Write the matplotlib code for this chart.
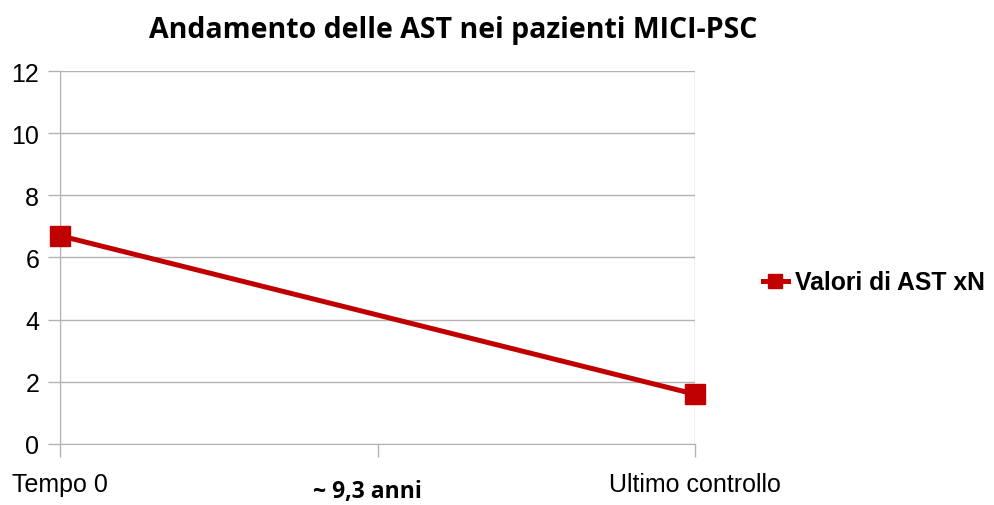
import matplotlib
matplotlib.use("Agg")
import matplotlib.pyplot as plt
from matplotlib.lines import Line2D

categories = ["Tempo 0", "Ultimo controllo"]
ast_values = [6.7, 1.6]
series_name = "Valori di AST xN"
interval_label = "~ 9,3 anni"
title = "Andamento delle AST nei pazienti MICI-PSC"

RED = "#c00000"
GRID = "#b3b3b3"

fig = plt.figure(figsize=(9.94, 5.06), dpi=100)
ax = fig.add_axes([0.0604, 0.1206, 0.6388, 0.7371])

x = list(range(len(categories)))
ax.plot(x, ast_values, color=RED, linewidth=3.6, marker="s", markersize=14,
        clip_on=False, zorder=5)

ax.set_xlim(0, len(categories) - 1)
ax.set_ylim(0, 12)
ax.set_yticks(range(0, 13, 2))
ax.set_xticks(x)
ax.set_xticklabels(categories)
ax.set_xticks([0.5], minor=True)
ax.grid(True, axis="both", which="major", color=GRID, linewidth=1)
ax.set_axisbelow(True)

for s in ["top", "right"]:
    ax.spines[s].set_visible(False)
for s in ["left", "bottom"]:
    ax.spines[s].set_color(GRID)
ax.tick_params(axis="both", which="both", color=GRID, length=9, width=1,
               labelsize=18, labelcolor="#000000")
ax.tick_params(axis="x", pad=11)
ax.tick_params(axis="y", pad=6)
for lbl in ax.get_xticklabels() + ax.get_yticklabels():
    lbl.set_family("Liberation Sans")

fig.text(0.456, 0.94, title, ha="center", va="center",
         fontsize=20.5, fontweight="bold", family="Open Sans")
fig.text(0.37, 0.028, interval_label, ha="center", va="center",
         fontsize=16.5, fontweight="bold", family="Open Sans")

handle = Line2D([], [], color=RED, linewidth=3.6, marker="s", markersize=10)
fig.legend([handle], [series_name], loc="center left",
           bbox_to_anchor=(0.755, 0.44), frameon=False, handlelength=1.0,
           handletextpad=0.3, borderpad=0,
           prop={"family": "Liberation Sans", "weight": "bold", "size": 17.8})

fig.savefig("out.png", dpi=100)
